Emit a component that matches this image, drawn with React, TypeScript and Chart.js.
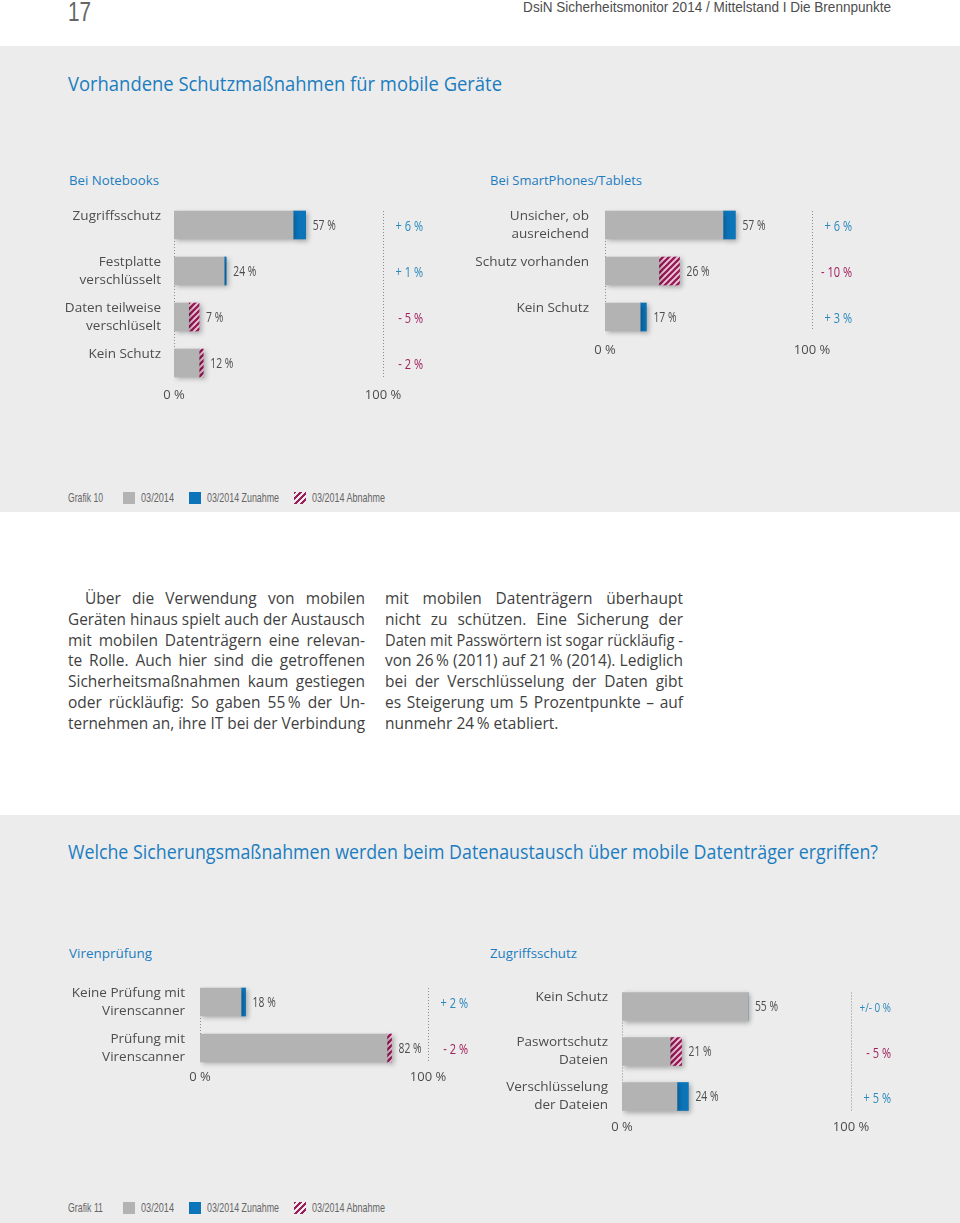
import React, { useEffect, useLayoutEffect, useRef } from "react";
import { Chart, registerables } from "chart.js";

Chart.register(...registerables);

// ---------- data ----------
const nbLabels = [["Zugriffsschutz", ""], ["Festplatte", "verschlüsselt"], ["Daten teilweise", "verschlüselt"], ["Kein Schutz", ""]];
const nbValues = [57, 24, 7, 12];
const nbChanges = [6, 1, -5, -2];

const spLabels = [["Unsicher, ob", "ausreichend"], ["Schutz vorhanden", ""], ["Kein Schutz", ""]];
const spValues = [57, 26, 17];
const spChanges = [6, -10, 3];

const vpLabels = [["Keine Prüfung mit", "Virenscanner"], ["Prüfung mit", "Virenscanner"]];
const vpValues = [18, 82];
const vpChanges = [2, -2];

const zsLabels = [["Kein Schutz", ""], ["Paswortschutz", "Dateien"], ["Verschlüsselung", "der Dateien"]];
const zsValues = [55, 21, 24];
const zsChanges = [0, -5, 5];

const axisTicks = [0, 100];
const legendLabels = ["03/2014", "03/2014 Zunahme", "03/2014 Abnahme"];

// ---------- styles ----------
const GRAY = "#b3b3b3";
const BLUE = "#0c74b9";
const UP = "#2a88bd";
const DOWN = "#a2215f";
const HEAD = "#1b7dc0";
const TXT = "#4d4d4d";
const BG = "#ececec";

function fmtChange(c: number) {
  if (c > 0) return "+ " + c + " %";
  if (c < 0) return "- " + Math.abs(c) + " %";
  return "+/- 0 %";
}

function makeHatch(): CanvasPattern | string {
  const c = document.createElement("canvas");
  c.width = 6;
  c.height = 6;
  const g = c.getContext("2d");
  if (!g) return DOWN;
  g.fillStyle = "#ecc9d8";
  g.fillRect(0, 0, 6, 6);
  g.strokeStyle = "#961a57";
  g.lineWidth = 2.3;
  g.beginPath();
  g.moveTo(-1, 7);
  g.lineTo(7, -1);
  g.moveTo(-4, 4);
  g.lineTo(4, -4);
  g.moveTo(2, 10);
  g.lineTo(10, 2);
  g.stroke();
  return g.createPattern(c, "repeat") || DOWN;
}

function condensed(ctx: any, text: string, x: number, y: number, align: string, sx: number) {
  ctx.save();
  ctx.translate(x, y);
  ctx.scale(sx, 1);
  ctx.textAlign = align;
  ctx.fillText(text, 0, 0);
  ctx.restore();
}

type PanelProps = {
  left: number;
  top: number;
  width: number;
  height: number;
  yWidth: number;
  yPad: number;
  xPad: number;
  labels: string[][];
  values: number[];
  changes: number[];
};

function Panel(p: PanelProps) {
  const ref = useRef<HTMLCanvasElement>(null);
  useEffect(() => {
    if (!ref.current) return;
    const hatch = makeHatch();
    const n = p.values.length;
    const overlay = {
      id: "overlay",
      beforeDatasetsDraw(chart: any) {
        const ctx = chart.ctx;
        const xs = chart.scales.x;
        const m0 = chart.getDatasetMeta(0);
        const top = m0.data[0].y - 14;
        const bottom = m0.data[n - 1].y + 14;
        ctx.save();
        ctx.setLineDash([1, 2]);
        ctx.strokeStyle = "#8c8c8c";
        ctx.lineWidth = 1;
        for (const v of axisTicks) {
          const px = Math.round(xs.getPixelForValue(v)) + 0.5;
          ctx.beginPath();
          ctx.moveTo(px, top);
          ctx.lineTo(px, bottom);
          ctx.stroke();
        }
        ctx.restore();
        ctx.save();
        ctx.shadowColor = "rgba(0,0,0,0.3)";
        ctx.shadowBlur = 5;
        ctx.shadowOffsetX = 2;
        ctx.shadowOffsetY = 2;
      },
      afterDatasetsDraw(chart: any) {
        const ctx = chart.ctx;
        ctx.restore();
        const xs = chart.scales.x;
        const m0 = chart.getDatasetMeta(0);
        const m1 = chart.getDatasetMeta(1);
        ctx.save();
        ctx.textBaseline = "middle";
        for (let i = 0; i < n; i++) {
          const b0 = m0.data[i];
          const b1 = m1.data[i];
          const end = Math.max(b0.x, b1.x);
          ctx.font = '14px "Open Sans"';
          ctx.fillStyle = "#4d4d4d";
          condensed(ctx, p.values[i] + " %", end + 7, b0.y + 1, "left", 0.74);
          const c = p.changes[i];
          ctx.fillStyle = c < 0 ? DOWN : UP;
          ctx.font = c === 0 ? '13px "Open Sans"' : '14.5px "Open Sans"';
          condensed(ctx, fmtChange(c), xs.getPixelForValue(100) + 40, b0.y + 2, "right", 0.76);
        }
        ctx.restore();
      },
    };
    const chart = new Chart(ref.current, {
      type: "bar",
      data: {
        labels: p.labels as any,
        datasets: [
          { data: p.values, backgroundColor: GRAY, borderWidth: 0, barThickness: 28 },
          {
            data: p.changes.map((c) => Math.abs(c)),
            backgroundColor: p.changes.map((c) => (c >= 0 ? BLUE : hatch)) as any,
            borderWidth: 0,
            barThickness: 28,
          },
        ],
      },
      options: {
        indexAxis: "y",
        animation: false,
        responsive: false,
        events: [],
        layout: { padding: { top: 10, right: 50, left: 0, bottom: 0 } },
        plugins: { legend: { display: false }, tooltip: { enabled: false } },
        scales: {
          x: {
            stacked: true,
            min: 0,
            max: 100,
            afterFit: (s: any) => {
              s.height = 24;
              s.paddingLeft = 0;
              s.paddingRight = 0;
              s.paddingTop = 0;
              s.paddingBottom = 0;
            },
            afterBuildTicks: (s: any) => {
              s.ticks = axisTicks.map((v) => ({ value: v }));
            },
            grid: { display: false, drawTicks: false },
            border: { display: false },
            ticks: {
              padding: p.xPad,
              color: TXT,
              font: { family: "Open Sans", size: 13, lineHeight: 1.2 },
              callback: (v: any) => v + " %",
              maxRotation: 0,
              autoSkip: false,
            },
          },
          y: {
            stacked: true,
            afterFit: (s: any) => {
              s.width = p.yWidth;
              s.paddingTop = 0;
              s.paddingBottom = 0;
              s.paddingLeft = 0;
              s.paddingRight = 0;
            },
            grid: { display: false, drawTicks: false },
            border: { display: false },
            ticks: {
              padding: p.yPad,
              color: TXT,
              font: { family: "Open Sans", size: 13.5, lineHeight: 1.35 },
              autoSkip: false,
            },
          },
        },
      },
      plugins: [overlay],
    } as any);
    return () => chart.destroy();
  }, []);
  return (
    <canvas
      ref={ref}
      width={p.width}
      height={p.height}
      style={{ position: "absolute", left: p.left, top: p.top, width: p.width, height: p.height }}
    />
  );
}

type LineProps = {
  text: string;
  x: number;
  y: number; // vertical center
  w?: number;
  mode?: "justify" | "fit" | "none";
  size: number;
  family?: string;
  color?: string;
  align?: "left" | "right";
  weight?: number;
};

function Line(props: LineProps) {
  const ref = useRef<HTMLSpanElement>(null);
  const mode = props.mode || "none";
  useLayoutEffect(() => {
    const el = ref.current;
    if (!el || !props.w) return;
    el.style.wordSpacing = "0px";
    el.style.transform = "none";
    const nat = el.getBoundingClientRect().width;
    const spaces = (props.text.match(/ /g) || []).length;
    if (mode === "fit") {
      el.style.transform = `scaleX(${props.w / nat})`;
    } else if (nat > props.w) {
      el.style.transform = `scaleX(${props.w / nat})`;
    } else if (mode === "justify" && spaces > 0) {
      el.style.wordSpacing = `${(props.w - nat) / spaces}px`;
    }
  }, []);
  const lh = Math.round(props.size * 1.4);
  const style: any = {
    position: "absolute",
    top: props.y - lh / 2,
    whiteSpace: "pre",
    fontSize: props.size,
    lineHeight: lh + "px",
    fontFamily: props.family || "'Open Sans'",
    color: props.color || TXT,
    fontWeight: props.weight || 400,
  };
  if (props.align === "right") {
    style.right = 960 - props.x;
    style.transformOrigin = "right center";
  } else {
    style.left = props.x;
    style.transformOrigin = "left center";
  }
  return (
    <span ref={ref} style={style}>
      {props.text}
    </span>
  );
}

const leftCol = [
  "Über die Verwendung von mobilen",
  "Geräten hinaus spielt auch der Austausch",
  "mit mobilen Datenträgern eine relevan-",
  "te Rolle. Auch hier sind die getroffenen",
  "Sicherheitsmaßnahmen kaum gestiegen",
  "oder rückläufig: So gaben 55\u2009% der Un-",
  "ternehmen an, ihre IT bei der Verbindung",
];
const rightCol = [
  "mit mobilen Datenträgern überhaupt",
  "nicht zu schützen. Eine Sicherung der",
  "Daten mit Passwörtern ist sogar rückläufig -",
  "von 26\u2009% (2011) auf 21\u2009% (2014). Lediglich",
  "bei der Verschlüsselung der Daten gibt",
  "es Steigerung um 5 Prozentpunkte – auf",
  "nunmehr 24\u2009% etabliert.",
];

const COND = "'Liberation Sans', 'Open Sans', sans-serif";

function Legend({ y, title }: { y: number; title: string }) {
  const sq = (x: number, bg: string) => (
    <div style={{ position: "absolute", left: x, top: y - 6, width: 12, height: 12, background: bg }} />
  );
  return (
    <>
      <Line text={title} x={68} y={y} w={35} mode="fit" size={13} family={COND} color="#666" />
      {sq(123, GRAY)}
      <Line text={legendLabels[0]} x={141} y={y} w={33} mode="fit" size={13} family={COND} color="#666" />
      {sq(189, BLUE)}
      <Line text={legendLabels[1]} x={207} y={y} w={72} mode="fit" size={13} family={COND} color="#666" />
      {sq(294, "repeating-linear-gradient(135deg, #9b1d5c 0px, #9b1d5c 2px, transparent 2px, transparent 4.2px)")}
      <Line text={legendLabels[2]} x={312} y={y} w={73} mode="fit" size={13} family={COND} color="#666" />
    </>
  );
}

export default function App() {
  return (
    <div
      style={{
        position: "absolute",
        left: 0,
        top: 0,
        width: 960,
        height: 1223,
        overflow: "hidden",
        background: "#fff",
        fontFamily: "'Open Sans'",
      }}
    >
      <div style={{ position: "absolute", left: 0, top: 46, width: 960, height: 466, background: BG }} />
      <div style={{ position: "absolute", left: 0, top: 815, width: 960, height: 408, background: BG }} />

      <Line text="17" x={68} y={12} w={23} mode="fit" size={27} family={COND} color="#666" weight={300} />
      <Line
        text="DsiN Sicherheitsmonitor 2014 / Mittelstand I Die Brennpunkte"
        x={891}
        y={7}
        w={368}
        mode="fit"
        size={14.5}
        family={COND}
        align="right"
      />

      <Line text="Vorhandene Schutzmaßnahmen für mobile Geräte" x={68} y={83} w={434} mode="fit" size={19.5} color={HEAD} />
      <Line text="Bei Notebooks" x={69} y={180} w={90} mode="fit" size={13.5} color={HEAD} />
      <Line text="Bei SmartPhones/Tablets" x={490} y={180} w={152} mode="fit" size={13.5} color={HEAD} />

      <Panel left={60} top={192} width={373} height={218} yWidth={114} yPad={13} xPad={1} labels={nbLabels} values={nbValues} changes={nbChanges} />
      <Panel left={470} top={192} width={392} height={172} yWidth={135} yPad={16} xPad={2} labels={spLabels} values={spValues} changes={spChanges} />

      <Legend y={498} title="Grafik 10" />

      {leftCol.map((t, i) => (
        <Line key={"l" + i} text={t} x={i === 0 ? 85 : 68} y={598 + i * 20.8} w={i === 0 ? 280 : 297} mode="justify" size={15.5} color="#3f3f3f" />
      ))}
      {rightCol.map((t, i) => (
        <Line
          key={"r" + i}
          text={t}
          x={385}
          y={598 + i * 20.8}
          w={298}
          mode={i === rightCol.length - 1 ? "none" : "justify"}
          size={15.5}
          color="#3f3f3f"
        />
      ))}

      <Line
        text="Welche Sicherungsmaßnahmen werden beim Datenaustausch über mobile Datenträger ergriffen?"
        x={68}
        y={851}
        w={810}
        mode="fit"
        size={19.5}
        color={HEAD}
      />
      <Line text="Virenprüfung" x={69} y={953} w={83} mode="fit" size={13.5} color={HEAD} />
      <Line text="Zugriffsschutz" x={490} y={953} w={87} mode="fit" size={13.5} color={HEAD} />

      <Panel left={60} top={969} width={418} height={126} yWidth={140} yPad={15} xPad={-2} labels={vpLabels} values={vpValues} changes={vpChanges} />
      <Panel left={490} top={974} width={411} height={169} yWidth={132} yPad={14} xPad={0} labels={zsLabels} values={zsValues} changes={zsChanges} />

      <Legend y={1208} title="Grafik 11" />
    </div>
  );
}
